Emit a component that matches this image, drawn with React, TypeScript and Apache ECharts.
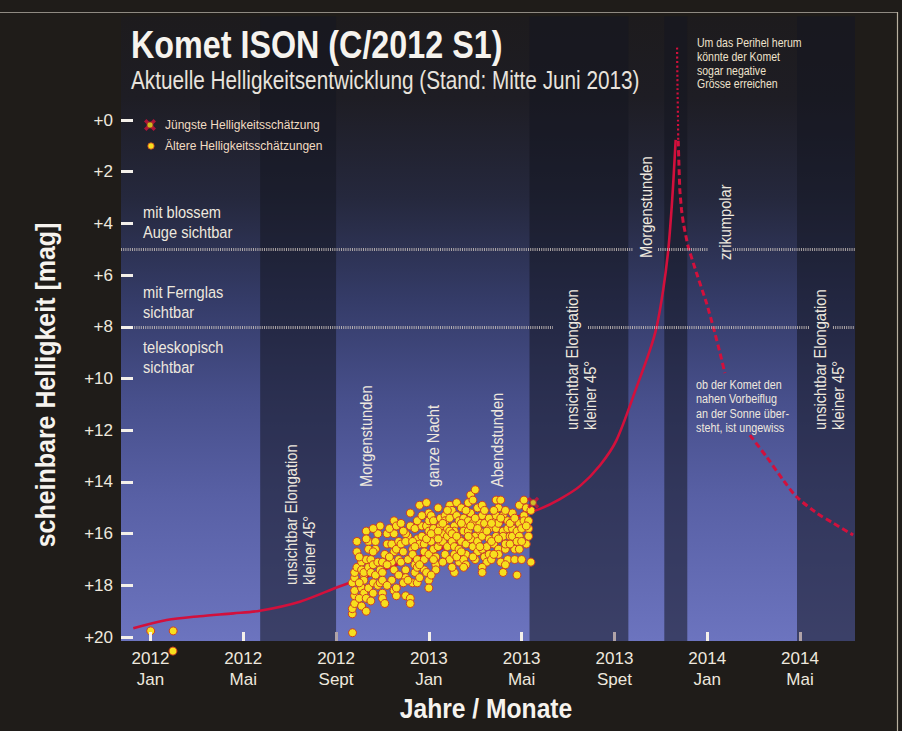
import React, { useEffect, useRef } from 'react';
import * as echarts from 'echarts';

const W = 902;
const H = 731;
const BG = '#1f1c19';
const FONT = "'Liberation Sans', Arial, 'DejaVu Sans', sans-serif";
const TXT = '#eee8de';
const RED = '#d2103c';

// x = months since January 2012, y = apparent magnitude
const X_MIN = -1.27;
const X_MAX = 30.37;
const xTickMonths = [0, 4, 8, 12, 16, 20, 24, 28];
const xTickLabels = ['2012\nJan', '2012\nMai', '2012\nSept', '2013\nJan', '2013\nMai', '2013\nSpet', '2014\nJan', '2014\nMai'];
const xTicksBright = [0, 4, 12, 16, 24];
const xTicksGrey = [8, 20, 28];
const yTicks = [0, 2, 4, 6, 8, 10, 12, 14, 16, 18, 20];

// periods where the comet is not observable (dark bands)
const darkBands = [[4.73, 8.0], [16.34, 20.6], [22.15, 23.14], [27.87, 30.37]];

// visibility limits: naked eye (5 mag) and binoculars (8 mag), with gaps at the labels
const nakedEyeMag = 5;
const nakedEyeSegments = [[X_MIN, 20.8], [21.88, 24.03], [25.1, X_MAX]];
const binocularMag = 8;
const binocularSegments = [[X_MIN, 17.35], [18.86, 28.43], [29.42, X_MAX]];

const trendRising = [
  [-0.74, 19.66], [0.7, 19.34], [2.13, 19.19], [3.57, 19.08], [4.72, 18.98], [6.44, 18.63],
  [8.17, 18.03], [9.32, 17.67], [10.75, 17.14], [12.48, 16.6], [14.2, 15.94], [15.5, 15.44],
  [16.79, 15.04], [17.65, 14.66], [18.51, 14.16], [19.38, 13.35], [20.09, 12.38], [20.96, 10.32],
  [21.53, 8.9], [21.82, 8.0], [22.1, 6.58], [22.32, 5.03], [22.47, 3.35], [22.56, 2.05], [22.64, 0.77],
];

const trendPeak = [[22.7, -2.8], [22.72, -1.2], [22.74, 0.0], [22.75, 0.8]];
const trendFallingA = [
  [22.75, 0.8], [22.78, 1.7], [22.82, 2.71], [22.89, 3.45], [22.97, 3.98], [23.18, 4.9],
  [23.54, 5.92], [23.97, 7.08], [24.26, 8.0], [24.55, 9.01], [24.76, 9.79],
];
const trendFallingB = [
  [25.84, 12.19], [26.56, 13.03], [27.28, 13.93], [27.85, 14.57], [28.72, 15.2], [29.43, 15.59], [30.29, 16.05],
];

const latestEstimate = [[16.5, 14.8]];

const olderEstimates = [
  [0.01, 19.76], [0.98, 19.76], [0.97, 20.54], [8.71, 19.83],
  [8.7, 19.1], [8.7, 18.9], [8.8, 18.7], [8.8, 18.4], [8.8, 18.2], [8.7, 17.9], [8.8, 17.7], [8.8, 17.5], [8.9, 17.3], [8.9, 16.7], [8.9, 16.3],
  [9.1, 17.1], [9.1, 17.4], [9.2, 17.6], [9.2, 17.8], [9.1, 18.1], [9.2, 18.3], [9.0, 18.5], [9.1, 18.8], [9.3, 19.0], [9.3, 15.9], [9.4, 16.3], [9.4, 16.6], [9.3, 17.0], [9.2, 17.5], [9.4, 17.3], [9.4, 18.1], [9.3, 18.5],
  [9.5, 17.0], [9.6, 17.2], [9.5, 17.5], [9.7, 17.6], [9.7, 16.6], [9.7, 16.3], [9.8, 16.0], [9.6, 17.9], [9.8, 18.0], [9.6, 18.3], [9.9, 17.9], [9.9, 17.4], [9.8, 17.1], [9.6, 16.7],
  [9.9, 15.7], [10.0, 17.1], [10.1, 16.8], [10.2, 16.4], [10.2, 16.0], [10.0, 17.5], [10.0, 17.8], [10.0, 18.3], [10.0, 18.5], [10.1, 18.7],
  [10.5, 15.5], [10.5, 16.0], [10.4, 16.4], [10.5, 16.7], [10.4, 17.1], [10.5, 17.4], [10.4, 17.8], [10.5, 18.2], [10.6, 18.4], [10.6, 18.1], [10.7, 17.0], [10.6, 16.6], [10.7, 16.3],
  [10.8, 16.4], [10.9, 16.7], [10.8, 17.1], [11.0, 17.4], [11.0, 17.7], [10.9, 17.9], [11.2, 15.2], [11.2, 15.7], [11.1, 16.1], [11.0, 18.4], [11.2, 18.5], [11.2, 18.7], [11.1, 17.0], [11.0, 16.0],
  [11.3, 16.6], [11.3, 16.8], [11.4, 17.2], [11.4, 17.5], [11.3, 17.9], [11.5, 17.9], [11.6, 17.7], [11.5, 17.3], [11.5, 17.0], [11.4, 15.8], [11.5, 16.2], [11.6, 16.4], [11.6, 14.9], [11.7, 15.7],
  [11.7, 16.1], [11.8, 16.4], [11.8, 16.7], [11.8, 17.0], [11.8, 17.4], [11.9, 17.5], [12.0, 17.8], [12.0, 18.1], [11.9, 15.7], [12.0, 15.2], [11.9, 14.8], [12.0, 15.5], [12.0, 15.9], [12.0, 16.8],
  [12.1, 15.3], [12.2, 15.5], [12.2, 15.8], [12.3, 16.1], [12.1, 16.3], [12.2, 16.6], [12.3, 16.9], [12.3, 17.2], [12.3, 17.4], [12.4, 15.0], [12.4, 16.5], [12.5, 16.3], [12.5, 15.4], [12.5, 15.7],
  [12.6, 16.0], [12.6, 16.3], [12.7, 15.3], [12.7, 15.5], [12.7, 16.8], [12.8, 15.8], [12.8, 16.1], [12.9, 14.9], [12.8, 16.5], [12.9, 15.4], [12.9, 17.0],
  [13.0, 15.1], [13.1, 15.7], [13.1, 15.9], [13.0, 16.3], [13.1, 16.5], [13.1, 16.8], [13.2, 15.3], [13.3, 15.5], [13.2, 14.8], [13.3, 17.1], [13.1, 17.5], [13.3, 16.2], [13.3, 16.6],
  [13.4, 15.0], [13.5, 15.4], [13.5, 15.7], [13.5, 15.9], [13.4, 16.3], [13.6, 16.4], [13.6, 16.8], [13.5, 17.0], [13.7, 14.8], [13.8, 14.5], [13.7, 15.5], [13.7, 15.9], [13.6, 17.2], [13.5, 17.3],
  [13.8, 15.2], [13.9, 15.6], [13.9, 14.7], [14.0, 14.3], [14.1, 15.0], [14.0, 16.1], [13.8, 16.2], [13.9, 16.5], [14.1, 16.7], [14.0, 17.0], [14.2, 15.6], [14.2, 15.9], [14.1, 16.3],
  [14.3, 14.9], [14.3, 15.3], [14.4, 15.6], [14.3, 16.1], [14.3, 16.6], [14.4, 16.9], [14.5, 17.1], [14.3, 17.3], [14.3, 17.5], [14.6, 15.4], [14.6, 15.8], [14.6, 16.2], [14.5, 16.5], [14.6, 16.8],
  [14.7, 17.0], [14.8, 16.4], [14.9, 16.1], [14.9, 15.8], [14.9, 15.5], [14.9, 15.3], [14.9, 14.7], [15.0, 15.0], [15.0, 15.6], [15.0, 16.6], [15.0, 16.8], [15.1, 17.1],
  [15.1, 14.7], [15.2, 15.3], [15.2, 15.9], [15.2, 16.1], [15.3, 16.6], [15.4, 17.0], [15.3, 17.2], [15.4, 15.5], [15.4, 15.8], [15.5, 16.1], [15.2, 17.5],
  [15.6, 15.2], [15.6, 15.5], [15.6, 15.8], [15.6, 16.1], [15.7, 16.6], [15.7, 17.0], [15.8, 15.9], [15.9, 15.6], [15.9, 14.9], [15.9, 16.1], [15.9, 16.6], [16.0, 17.0], [15.8, 17.6],
  [16.1, 15.3], [16.1, 15.5], [16.1, 14.7], [16.2, 15.0], [16.3, 15.8], [16.3, 16.1], [16.2, 16.4], [16.3, 15.5], [16.4, 17.1], [16.4, 15.1],
  [10.3, 15.8], [10.6, 15.7], [10.9, 15.9], [11.0, 16.3], [10.8, 15.6], [11.3, 16.3], [11.5, 15.5], [11.4, 16.5], [11.7, 15.3], [11.9, 16.2],
  [12.1, 16.0], [12.2, 17.0], [12.4, 15.9], [12.4, 16.2], [12.6, 15.6], [12.6, 17.1], [12.8, 15.1], [12.9, 15.9], [13.0, 16.0], [13.2, 16.1],
  [13.2, 16.9], [13.4, 15.6], [13.4, 16.7], [13.6, 15.1], [13.7, 16.1], [13.8, 15.7], [13.9, 16.9], [14.0, 15.4], [14.1, 15.8], [14.2, 16.5],
  [14.4, 15.1], [14.5, 15.9], [14.7, 15.6], [14.7, 16.3], [14.8, 15.1], [14.8, 16.8], [15.0, 16.2], [15.1, 15.4], [15.3, 15.1], [15.3, 16.4],
  [15.5, 15.6], [15.5, 16.4], [15.7, 15.4], [15.8, 16.3], [16.0, 15.8], [16.0, 16.3], [16.2, 15.7], [9.0, 17.9], [9.5, 18.6], [9.3, 16.2],
  [10.2, 17.2], [10.3, 16.9], [10.7, 17.6], [11.1, 17.8], [11.6, 17.2], [12.1, 17.6], [10.2, 18.0], [9.0, 16.9], [9.6, 15.8], [13.0, 17.3],
];

const svgUrl = (s: string) => 'image://data:image/svg+xml;charset=utf-8,' + encodeURIComponent(s);
const crossSvg = (w: number, cx: number) =>
  `<svg xmlns="http://www.w3.org/2000/svg" width="${w}" height="14" viewBox="0 0 ${w} 14">` +
  `<path d="M${cx - 4.8} 2.2L${cx + 4.8} 11.8M${cx + 4.8} 2.2L${cx - 4.8} 11.8" stroke="${RED}" stroke-width="3.4"/>` +
  `<circle cx="${cx}" cy="7" r="3" fill="#f7df1e" stroke="#d04020" stroke-width="0.8"/></svg>`;
const dotSvg = (w: number, cx: number) =>
  `<svg xmlns="http://www.w3.org/2000/svg" width="${w}" height="14" viewBox="0 0 ${w} 14">` +
  `<circle cx="${cx}" cy="7" r="3.2" fill="#f7df1e" stroke="#d04020" stroke-width="0.8"/></svg>`;

const txt = (
  x: number, y: number, text: string, fontSize: number, lineHeight: number, scaleX: number,
  opts: { fill?: string; bold?: boolean; align?: string; vAlign?: string; rotate?: boolean } = {},
) => ({
  type: 'text',
  x,
  y,
  z: 100,
  scaleX,
  rotation: opts.rotate ? Math.PI / 2 : 0,
  silent: true,
  style: {
    text,
    fill: opts.fill ?? TXT,
    fontSize,
    lineHeight,
    fontFamily: FONT,
    fontWeight: opts.bold ? 'bold' : 'normal',
    align: opts.align ?? 'left',
    verticalAlign: opts.vAlign ?? 'top',
  },
});
const vText = (x: number, y: number, text: string) => txt(x, y, text, 17, 18, 0.86, { rotate: true });

export default function App() {
  const ref = useRef<HTMLDivElement>(null);
  useEffect(() => {
    document.body.style.margin = '0';
    document.body.style.background = BG;
    const chart = echarts.init(ref.current!, null, { renderer: 'svg', width: W, height: H });
    const segs = (mag: number, list: number[][]) => list.map(([a, b]) => [{ coord: [a, mag] }, { coord: [b, mag] }]);
    const lineCommon = { type: 'line', showSymbol: false, silent: true, z: 3 };
    chart.setOption({
      animation: false,
      backgroundColor: BG,
      textStyle: { fontFamily: FONT },
      grid: {
        left: 121, right: 47, top: 16.6, bottom: 90, show: true, borderWidth: 0,
        backgroundColor: new echarts.graphic.LinearGradient(0, 0, 0, 1, [
          { offset: 0, color: '#1d1b1d' },
          { offset: 0.13, color: '#1e1d24' },
          { offset: 0.29, color: '#25283d' },
          { offset: 0.45, color: '#343b67' },
          { offset: 0.61, color: '#474f8b' },
          { offset: 0.77, color: '#5860a5' },
          { offset: 1, color: '#6c74bf' },
        ]),
      },
      legend: {
        orient: 'vertical', left: 138, top: 113, itemGap: 7, itemWidth: 17, itemHeight: 14, z: 50,
        textStyle: { color: '#f2dcc2', fontSize: 12, fontFamily: FONT },
        data: [
          { name: 'Jüngste Helligkeitsschätzung', icon: svgUrl(crossSvg(17, 7)) },
          { name: 'Ältere Helligkeitsschätzungen', icon: svgUrl(dotSvg(17, 8)) },
        ],
        selectedMode: false,
      },
      xAxis: [
        {
          type: 'value', min: X_MIN, max: X_MAX, z: 10,
          axisLine: { show: false, onZero: false }, splitLine: { show: false },
          axisTick: { show: true, inside: true, length: 9, customValues: xTicksBright, lineStyle: { color: '#f4f0ea', width: 3 } },
          axisLabel: {
            customValues: xTickMonths, color: TXT, fontSize: 17, lineHeight: 21, margin: 7, fontFamily: FONT,
            formatter: (v: number) => xTickLabels[xTickMonths.indexOf(v)] ?? '',
          },
        },
        {
          type: 'value', min: X_MIN, max: X_MAX, position: 'bottom', z: 10,
          axisLine: { show: false, onZero: false }, splitLine: { show: false }, axisLabel: { show: false },
          axisTick: { show: true, inside: true, length: 9, customValues: xTicksGrey, lineStyle: { color: '#b0a3a8', width: 3 } },
        },
      ],
      yAxis: {
        type: 'value', inverse: true, min: -4, max: 20.15, z: 10,
        axisLine: { show: false, onZero: false }, splitLine: { show: false },
        axisTick: { show: true, inside: true, length: 12, customValues: yTicks, lineStyle: { color: '#f4f0ea', width: 3 } },
        axisLabel: { customValues: yTicks, color: TXT, fontSize: 17, margin: 8, fontFamily: FONT, formatter: (v: number) => '+' + v },
      },
      series: [
        {
          type: 'line', data: [], silent: true, z: 1,
          markArea: {
            silent: true,
            itemStyle: { color: 'rgba(20,22,32,0.55)' },
            data: darkBands.map(([a, b]) => [{ xAxis: a }, { xAxis: b }]),
          },
        },
        {
          type: 'line', data: [], silent: true, z: 2,
          markLine: {
            silent: true, symbol: ['none', 'none'], label: { show: false },
            lineStyle: { color: 'rgba(206,198,190,0.8)', width: 3, type: [1, 1.2] },
            data: [...segs(nakedEyeMag, nakedEyeSegments), ...segs(binocularMag, binocularSegments)],
          },
        },
        { ...lineCommon, name: 'Trend', data: trendRising, smooth: 0.3, lineStyle: { color: RED, width: 2.6 } },
        { ...lineCommon, name: 'Peak', data: trendPeak, smooth: 0.2, lineStyle: { color: RED, width: 2.2, type: [2, 2.5] } },
        { ...lineCommon, name: 'TrendA', data: trendFallingA, smooth: 0.15, lineStyle: { color: RED, width: 3, type: [6, 3.5] } },
        { ...lineCommon, name: 'TrendB', data: trendFallingB, smooth: 0.3, lineStyle: { color: RED, width: 3, type: [6, 3.5] } },
        {
          type: 'scatter', name: 'Ältere Helligkeitsschätzungen', data: olderEstimates, clip: false, silent: true, z: 4,
          symbol: 'circle', symbolSize: 8,
          itemStyle: { color: '#f7df1e', borderColor: '#d04020', borderWidth: 1, opacity: 1 },
        },
        {
          type: 'scatter', name: 'Jüngste Helligkeitsschätzung', data: latestEstimate, clip: false, silent: true, z: 5,
          symbol: svgUrl(crossSvg(14, 7)), symbolSize: [14, 14],
        },
      ],
      graphic: [
        { type: 'line', z: 100, silent: true, shape: { x1: 0, y1: 12.5, x2: 898, y2: 12.5 }, style: { stroke: '#8f8a82', lineWidth: 1.2 } },
        { type: 'line', z: 100, silent: true, shape: { x1: 897.5, y1: 12, x2: 897.5, y2: 731 }, style: { stroke: '#b8b0a0', lineWidth: 1.2 } },
        txt(131, 45, 'Komet ISON (C/2012 S1)', 38, 40, 0.85, { fill: '#f6f3ee', bold: true, vAlign: 'middle' }),
        txt(131, 80, 'Aktuelle Helligkeitsentwicklung (Stand: Mitte Juni 2013)', 25, 26, 0.83, { fill: '#e8e3dc', vAlign: 'middle' }),
        txt(46, 385, 'scheinbare Helligkeit [mag]', 27, 28, 0.925, { fill: '#f6f3ee', bold: true, align: 'center', vAlign: 'middle', rotate: true }),
        txt(486, 708, 'Jahre / Monate', 28, 30, 0.88, { fill: '#f6f3ee', bold: true, align: 'center', vAlign: 'middle' }),
        txt(143, 202, 'mit blossem\nAuge sichtbar', 17, 20, 0.86),
        txt(143, 282, 'mit Fernglas\nsichtbar', 17, 20, 0.86),
        txt(143, 337, 'teleskopisch\nsichtbar', 17, 20, 0.86),
        txt(696, 377, 'ob der Komet den\nnahen Vorbeiflug\nan der Sonne über-\nsteht, ist ungewiss', 13.5, 14.5, 0.8),
        txt(697, 36, 'Um das Perihel herum\nkönnte der Komet\nsogar negative\nGrösse erreichen', 13, 13.7, 0.81, { fill: '#eee2cc' }),
        vText(282, 585, 'unsichtbar Elongation\nkleiner 45°'),
        vText(357, 487, 'Morgenstunden'),
        vText(424, 487, 'ganze Nacht'),
        vText(488, 487, 'Abendstunden'),
        vText(563, 430, 'unsichtbar Elongation\nkleiner 45°'),
        vText(637, 258, 'Morgenstunden'),
        vText(716, 260, 'zrikumpolar'),
        vText(811, 430, 'unsichtbar Elongation\nkleiner 45°'),
      ],
    });
    return () => chart.dispose();
  }, []);
  return <div ref={ref} style={{ width: W, height: H, background: BG }} />;
}
